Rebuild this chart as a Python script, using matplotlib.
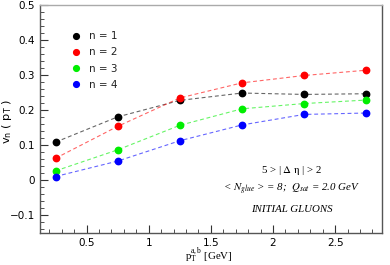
import matplotlib
matplotlib.use("Agg")
import matplotlib.pyplot as plt
from matplotlib.ticker import MultipleLocator

plt.rcParams['mathtext.fontset'] = 'stix'

pt = [0.25, 0.75, 1.25, 1.75, 2.25, 2.75]
v1 = [0.109, 0.181, 0.228, 0.249, 0.245, 0.247]
v2 = [0.063, 0.154, 0.235, 0.278, 0.299, 0.314]
v3 = [0.027, 0.087, 0.157, 0.204, 0.219, 0.229]
v4 = [0.011, 0.055, 0.113, 0.158, 0.188, 0.192]
labels = ["n = 1", "n = 2", "n = 3", "n = 4"]
colors = ["black", "#ff0000", "#00ee00", "#0000ff"]

fig = plt.figure(figsize=(3.9, 2.65), dpi=100)
ax = fig.add_axes([0.1026, 0.1208, 0.8764, 0.8604])
for v, c, l in zip([v1, v2, v3, v4], colors, labels):
    ax.plot(pt, v, ls=(0, (3.5, 2.5)), color=c, lw=0.8, alpha=0.6)
    ax.plot(pt, v, ls='none', marker='o', ms=4.6, color=c, label=l)

ax.set_xlim(0.125, 2.875)
ax.set_ylim(-0.15, 0.5)
ax.xaxis.set_major_locator(MultipleLocator(0.5))
ax.xaxis.set_minor_locator(MultipleLocator(0.1))
ax.yaxis.set_major_locator(MultipleLocator(0.1))
ax.yaxis.set_minor_locator(MultipleLocator(0.02))
ax.tick_params(which='both', direction='in', top=False, right=False, labelsize=7.5, colors='#333333', labelcolor='black')
ax.tick_params(which='major', length=6, width=0.8)
ax.tick_params(which='minor', length=3, width=0.6)
ax.set_yticks([-0.1, 0, 0.1, 0.2, 0.3, 0.4, 0.5])
ax.set_yticklabels(["\u22120.1", "0", "0.1", "0.2", "0.3", "0.4", "0.5"])
ax.set_xticks([0.5, 1, 1.5, 2, 2.5])
ax.set_xticklabels(["0.5", "1", "1.5", "2", "2.5"])
for s in ax.spines.values():
    s.set_color('#555555')
    s.set_linewidth(1.0)
ax.spines['top'].set_color('#aaaaaa')

leg = ax.legend(loc='upper left', bbox_to_anchor=(0.082, 0.908), frameon=False, fontsize=7.5,
                handlelength=0.6, handletextpad=0.9, labelspacing=0.6, borderpad=0, markerscale=0.9)
for t in leg.get_texts():
    t.set_color('#222222')

ax.text(-0.097, 0.49, r"$\mathregular{v_n}$ ( $\mathregular{p_T}$ )", transform=ax.transAxes,
        rotation=90, fontsize=8.2, ha='center', va='center', family='DejaVu Sans')
ax.text(0.564, -0.06, r"$\mathregular{p_T^{a,b}}$ [GeV]", transform=ax.transAxes,
        fontsize=7.8, ha='right', va='top', family='Liberation Serif')

ax.text(0.737, 0.272, r"5 > | $\mathrm{\Delta}$ $\mathrm{\eta}$ | > 2", transform=ax.transAxes,
        fontsize=7.8, ha='center', va='center', family='Liberation Serif')
ax.text(0.737, 0.193, r"< $N_{glue}$ > = 8;  $Q_{sat}$ = 2.0 GeV", transform=ax.transAxes,
        fontsize=7.8, ha='center', va='center', family='Liberation Serif', style='italic')
ax.text(0.737, 0.105, "INITIAL GLUONS", transform=ax.transAxes,
        fontsize=7.8, ha='center', va='center', family='Liberation Serif', style='italic')

fig.savefig("out.png", dpi=100)
